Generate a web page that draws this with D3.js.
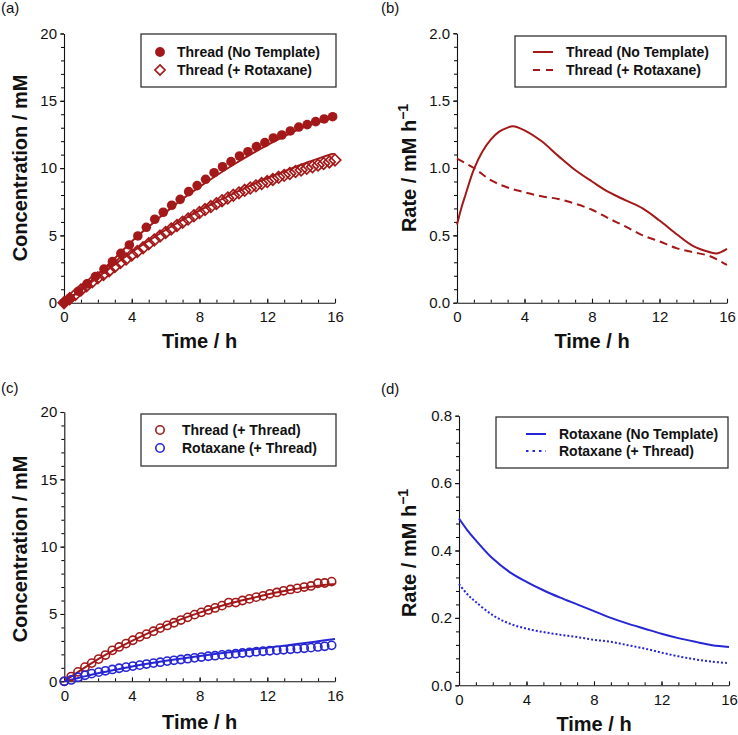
<!DOCTYPE html>
<html><head><meta charset="utf-8">
<script src="https://cdn.jsdelivr.net/npm/d3@7"></script>
<style>body{margin:0;background:#fff}</style>
</head><body>
<svg id="chart" width="738" height="735"></svg>
<script>
// ---------- DATA ----------
const xTickLabels = [0, 4, 8, 12, 16];

// (a) Thread (No Template) – filled circles
const aNoTplTime = [0,0.36,0.86,1.36,1.86,2.36,2.86,3.36,3.86,4.36,4.86,5.36,5.86,6.36,6.86,7.36,7.86,8.36,8.86,9.36,9.86,10.36,10.86,11.36,11.86,12.36,12.86,13.36,13.86,14.36,14.86,15.36,15.86];
const aNoTplConc = [0,0.35,0.85,1.4,1.95,2.5,3.05,3.67,4.29,4.96,5.6,6.2,6.72,7.24,7.68,8.25,8.7,9.17,9.66,10.1,10.48,10.9,11.22,11.6,11.89,12.24,12.46,12.76,13.05,13.23,13.45,13.65,13.82];
// (a) Thread (+ Rotaxane) – open diamonds
const aRotTime = [0,0.33,0.67,1,1.33,1.67,2,2.33,2.67,3,3.33,3.67,4,4.33,4.67,5,5.33,5.67,6,6.33,6.67,7,7.33,7.67,8,8.33,8.67,9,9.33,9.67,10,10.33,10.67,11,11.33,11.67,12,12.33,12.67,13,13.33,13.67,14,14.33,14.67,15,15.33,15.67,16];
const aRotConc = [0,0.3,0.6,0.95,1.25,1.55,1.85,2.1,2.38,2.68,2.98,3.25,3.55,3.8,4.08,4.38,4.66,4.95,5.22,5.48,5.74,5.98,6.22,6.46,6.7,6.92,7.14,7.36,7.58,7.78,7.98,8.16,8.35,8.52,8.68,8.85,9.0,9.16,9.32,9.46,9.6,9.74,9.86,9.98,10.1,10.22,10.34,10.46,10.6];
// (a) fitted curves
const fitHours = [0,1,2,3,4,5,6,7,8,9,10,11,12,13,14,15,16];
const aNoTplFit = [0,1.0,2.1,3.3,4.55,5.65,6.7,7.7,8.6,9.45,10.25,11.0,11.7,12.35,12.95,13.4,13.75];
const aRotFit = [0,0.95,1.9,2.85,3.75,4.6,5.4,6.15,6.85,7.5,8.1,8.7,9.25,9.75,10.25,10.7,11.12];

// (b) rates
const bNoTplTime = [0,0.25,0.5,1,1.5,2,2.5,3,3.3,4,5,6,7,8,9,10,11,12,13,14,15,15.4,16];
const bNoTplRate = [0.58,0.70,0.80,0.99,1.12,1.21,1.27,1.30,1.31,1.28,1.20,1.09,0.985,0.90,0.82,0.76,0.70,0.61,0.51,0.42,0.375,0.366,0.40];
const bRotTime = [0,1,2,3,4,5,6,7,8,9,10,11,12,13,14,15,16];
const bRotRate = [1.07,1.0,0.91,0.855,0.82,0.79,0.77,0.735,0.69,0.625,0.565,0.50,0.455,0.405,0.375,0.345,0.28];

// (c) Thread (+ Thread) red circles, Rotaxane (+ Thread) blue circles
const cTime = [0,0.41,0.81,1.22,1.62,2.03,2.43,2.84,3.24,3.65,4.05,4.46,4.86,5.27,5.67,6.08,6.48,6.89,7.29,7.70,8.10,8.51,8.91,9.32,9.72,10.13,10.53,10.94,11.34,11.75,12.15,12.56,12.96,13.37,13.77,14.18,14.58,14.99,15.39,15.80];
const cThreadConc = [0,0.35,0.7,1.05,1.35,1.65,1.95,2.3,2.55,2.8,3.05,3.3,3.5,3.72,3.95,4.15,4.35,4.55,4.75,4.95,5.12,5.3,5.45,5.62,5.85,5.85,6.0,6.12,6.25,6.35,6.5,6.6,6.72,6.82,6.9,7.0,7.08,7.28,7.3,7.4];
const cRotConc = [0,0.1,0.3,0.45,0.57,0.68,0.78,0.88,0.97,1.05,1.13,1.2,1.28,1.35,1.42,1.5,1.56,1.62,1.68,1.74,1.8,1.86,1.9,1.96,2.0,2.05,2.1,2.14,2.2,2.23,2.27,2.3,2.34,2.38,2.42,2.45,2.5,2.55,2.6,2.67];
const cThreadFit = [0,0.85,1.65,2.35,3.0,3.6,4.15,4.65,5.1,5.5,5.85,6.15,6.45,6.7,6.92,7.1,7.22];
const cRotFit = [0,0.3,0.6,0.85,1.1,1.32,1.52,1.7,1.88,2.05,2.2,2.35,2.5,2.65,2.8,2.98,3.15];

// (d) rates
const dTime = [0,0.5,1,2,3,4,5,6,7,8,9,10,11,12,13,14,15,16];
const dNoTplRate = [0.495,0.46,0.43,0.376,0.336,0.307,0.282,0.26,0.24,0.22,0.20,0.183,0.168,0.153,0.14,0.129,0.119,0.114];
const dThreadRate = [0.30,0.27,0.247,0.208,0.183,0.168,0.158,0.15,0.143,0.135,0.129,0.119,0.109,0.097,0.086,0.077,0.07,0.066];

// ---------- DRAWING ----------
const RED = "#a31919", BLUE = "#2626d4", INK = "#111";
const FONT = "'Liberation Sans', Arial, Helvetica, sans-serif";
const svg = d3.select("#chart").style("font-family", FONT);
const zip = (xs, ys) => xs.map((t, i) => [t, ys[i]]);

function panel(p) {
  const g = svg.append("g");
  const x = d3.scaleLinear().domain([0, 16]).range([p.x0, p.x1]);
  const y = d3.scaleLinear().domain([0, p.ymax]).range([p.yb, p.yt]);

  // minor ticks
  g.append("g").attr("transform", `translate(${p.x0},0)`)
    .call(d3.axisLeft(y).tickValues(d3.range(0, p.ymax + 1e-9, p.yminor)).tickSize(3).tickSizeOuter(0).tickFormat(""))
    .call(s => s.select(".domain").remove());
  g.append("g").attr("transform", `translate(0,${p.yb})`)
    .call(d3.axisBottom(x).tickValues(d3.range(0, 17, 1)).tickSizeInner(-3).tickSizeOuter(0).tickFormat(""))
    .call(s => s.select(".domain").remove());
  // major
  const ya = g.append("g").attr("transform", `translate(${p.x0},0)`)
    .call(d3.axisLeft(y).tickValues(p.yTicks).tickSize(4).tickSizeOuter(0).tickPadding(3).tickFormat(d3.format(p.fmt)));
  const xa = g.append("g").attr("transform", `translate(0,${p.yb})`)
    .call(d3.axisBottom(x).tickValues(xTickLabels).tickSizeInner(-4).tickSizeOuter(0).tickPadding(9));
  [ya, xa].forEach(a => {
    a.selectAll("text").attr("font-size", 15).attr("font-family", FONT).attr("fill", INK);
    a.selectAll("line,path").attr("stroke", INK).attr("stroke-width", 1.1);
  });

  // titles
  g.append("text").attr("x", (p.x0 + p.x1) / 2).attr("y", p.xtY)
    .attr("text-anchor", "middle").attr("font-size", 20).attr("font-weight", "bold").attr("fill", INK)
    .text("Time / h");
  const yt = g.append("text").attr("transform", `translate(${p.ytX},${p.ytY}) rotate(-90)`)
    .attr("text-anchor", "middle").attr("font-size", 20).attr("font-weight", "bold").attr("fill", INK)
    .text(p.ytitle);
  if (p.sup) yt.append("tspan").attr("dy", -8).attr("font-size", 14).text(p.sup);

  svg.append("text").attr("x", p.labX).attr("y", p.labY).attr("font-size", 15).attr("fill", INK).text(p.label);
  return { g, x, y };
}

const line = (x, y) => d3.line().x(d => x(d[0])).y(d => y(d[1])).curve(d3.curveCatmullRom.alpha(0.5));

function legendBox(g, r) {
  g.append("rect").attr("x", r.x).attr("y", r.y).attr("width", r.w).attr("height", r.h)
    .attr("fill", "#fff").attr("stroke", "#333").attr("stroke-width", 1.3);
}
function legendText(g, x, y, t) {
  g.append("text").attr("x", x).attr("y", y + 5).attr("font-size", 14).attr("font-weight", "bold").attr("fill", INK).text(t);
}

// ---- (a)
{
  const { g, x, y } = panel({ x0: 64, x1: 335, yt: 33.5, yb: 302.7, ymax: 20, yTicks: [0, 5, 10, 15, 20], yminor: 1, fmt: "d",
    xtY: 348, ytX: 27, ytY: 168, ytitle: "Concentration / mM", label: "(a)", labX: 1, labY: 13 });
  const L = line(x, y);
  g.append("path").attr("d", L(zip(fitHours, aNoTplFit))).attr("fill", "none").attr("stroke", RED).attr("stroke-width", 2);
  g.append("path").attr("d", L(zip(fitHours, aRotFit))).attr("fill", "none").attr("stroke", RED).attr("stroke-width", 2);
  const dia = d3.symbol().type(d3.symbolDiamond2).size(85);
  g.selectAll(".dia").data(zip(aRotTime, aRotConc)).join("path")
    .attr("transform", d => `translate(${x(d[0])},${y(d[1])})`).attr("d", dia)
    .attr("fill", "none").attr("stroke", RED).attr("stroke-width", 1.7);
  g.selectAll(".fc").data(zip(aNoTplTime, aNoTplConc)).join("circle")
    .attr("cx", d => x(d[0])).attr("cy", d => y(d[1])).attr("r", 4.8).attr("fill", RED);
  legendBox(g, { x: 141, y: 34, w: 195, h: 53 });
  g.append("circle").attr("cx", 160).attr("cy", 52).attr("r", 4.9).attr("fill", RED);
  g.append("path").attr("transform", "translate(160,70)").attr("d", d3.symbol().type(d3.symbolDiamond2).size(65))
    .attr("fill", "none").attr("stroke", RED).attr("stroke-width", 1.7);
  legendText(g, 177, 52, "Thread (No Template)");
  legendText(g, 177, 70, "Thread (+ Rotaxane)");
}

// ---- (b)
{
  const { g, x, y } = panel({ x0: 457, x1: 727, yt: 33.3, yb: 302.7, ymax: 2.0, yTicks: [0, 0.5, 1, 1.5, 2], yminor: 0.1, fmt: ".1f",
    xtY: 348, ytX: 416, ytY: 168, ytitle: "Rate / mM h", sup: "\u22121", label: "(b)", labX: 381, labY: 13 });
  const L = line(x, y);
  g.append("path").attr("d", L(zip(bNoTplTime, bNoTplRate))).attr("fill", "none").attr("stroke", RED).attr("stroke-width", 2);
  g.append("path").attr("d", L(zip(bRotTime, bRotRate))).attr("fill", "none").attr("stroke", RED).attr("stroke-width", 2).attr("stroke-dasharray", "8,5");
  legendBox(g, { x: 515, y: 36, w: 211, h: 51 });
  g.append("line").attr("x1", 533).attr("x2", 553).attr("y1", 52).attr("y2", 52).attr("stroke", RED).attr("stroke-width", 2);
  g.append("line").attr("x1", 533).attr("x2", 553).attr("y1", 70).attr("y2", 70).attr("stroke", RED).attr("stroke-width", 2).attr("stroke-dasharray", "7,6");
  legendText(g, 566, 52, "Thread (No Template)");
  legendText(g, 566, 70, "Thread (+ Rotaxane)");
}

// ---- (c)
{
  const { g, x, y } = panel({ x0: 64.3, x1: 335, yt: 412, yb: 681.3, ymax: 20, yTicks: [0, 5, 10, 15, 20], yminor: 1, fmt: "d",
    xtY: 729, ytX: 27, ytY: 549, ytitle: "Concentration / mM", label: "(c)", labX: 1, labY: 393 });
  const L = line(x, y);
  g.append("path").attr("d", L(zip(fitHours, cThreadFit))).attr("fill", "none").attr("stroke", RED).attr("stroke-width", 2);
  g.append("path").attr("d", L(zip(fitHours, cRotFit))).attr("fill", "none").attr("stroke", BLUE).attr("stroke-width", 2);
  g.selectAll(".rc").data(zip(cTime, cThreadConc)).join("circle")
    .attr("cx", d => x(d[0])).attr("cy", d => y(d[1])).attr("r", 4.1).attr("fill", "none").attr("stroke", RED).attr("stroke-width", 1.6);
  g.selectAll(".bc").data(zip(cTime, cRotConc)).join("circle")
    .attr("cx", d => x(d[0])).attr("cy", d => y(d[1])).attr("r", 4.1).attr("fill", "none").attr("stroke", BLUE).attr("stroke-width", 1.6);
  legendBox(g, { x: 141, y: 414, w: 195, h: 52 });
  g.append("circle").attr("cx", 160).attr("cy", 430).attr("r", 4.2).attr("fill", "none").attr("stroke", RED).attr("stroke-width", 1.6);
  g.append("circle").attr("cx", 160).attr("cy", 448).attr("r", 4.2).attr("fill", "none").attr("stroke", BLUE).attr("stroke-width", 1.6);
  legendText(g, 182, 430, "Thread (+ Thread)");
  legendText(g, 182, 448, "Rotaxane (+ Thread)");
}

// ---- (d)
{
  const { g, x, y } = panel({ x0: 459, x1: 729, yt: 415.7, yb: 685.3, ymax: 0.8, yTicks: [0, 0.2, 0.4, 0.6, 0.8], yminor: 0.04, fmt: ".1f",
    xtY: 731, ytX: 416, ytY: 553, ytitle: "Rate / mM h", sup: "\u22121", label: "(d)", labX: 381, labY: 394 });
  const L = line(x, y);
  g.append("path").attr("d", L(zip(dTime, dNoTplRate))).attr("fill", "none").attr("stroke", BLUE).attr("stroke-width", 2);
  g.append("path").attr("d", L(zip(dTime, dThreadRate))).attr("fill", "none").attr("stroke", BLUE).attr("stroke-width", 2).attr("stroke-dasharray", "2,2");
  legendBox(g, { x: 496, y: 417, w: 232, h: 51 });
  g.append("line").attr("x1", 526).attr("x2", 546).attr("y1", 434).attr("y2", 434).attr("stroke", BLUE).attr("stroke-width", 2);
  g.append("line").attr("x1", 526).attr("x2", 546).attr("y1", 451).attr("y2", 451).attr("stroke", BLUE).attr("stroke-width", 2).attr("stroke-dasharray", "2.5,4");
  legendText(g, 559, 434, "Rotaxane (No Template)");
  legendText(g, 559, 451, "Rotaxane (+ Thread)");
}
</script>
</body></html>
